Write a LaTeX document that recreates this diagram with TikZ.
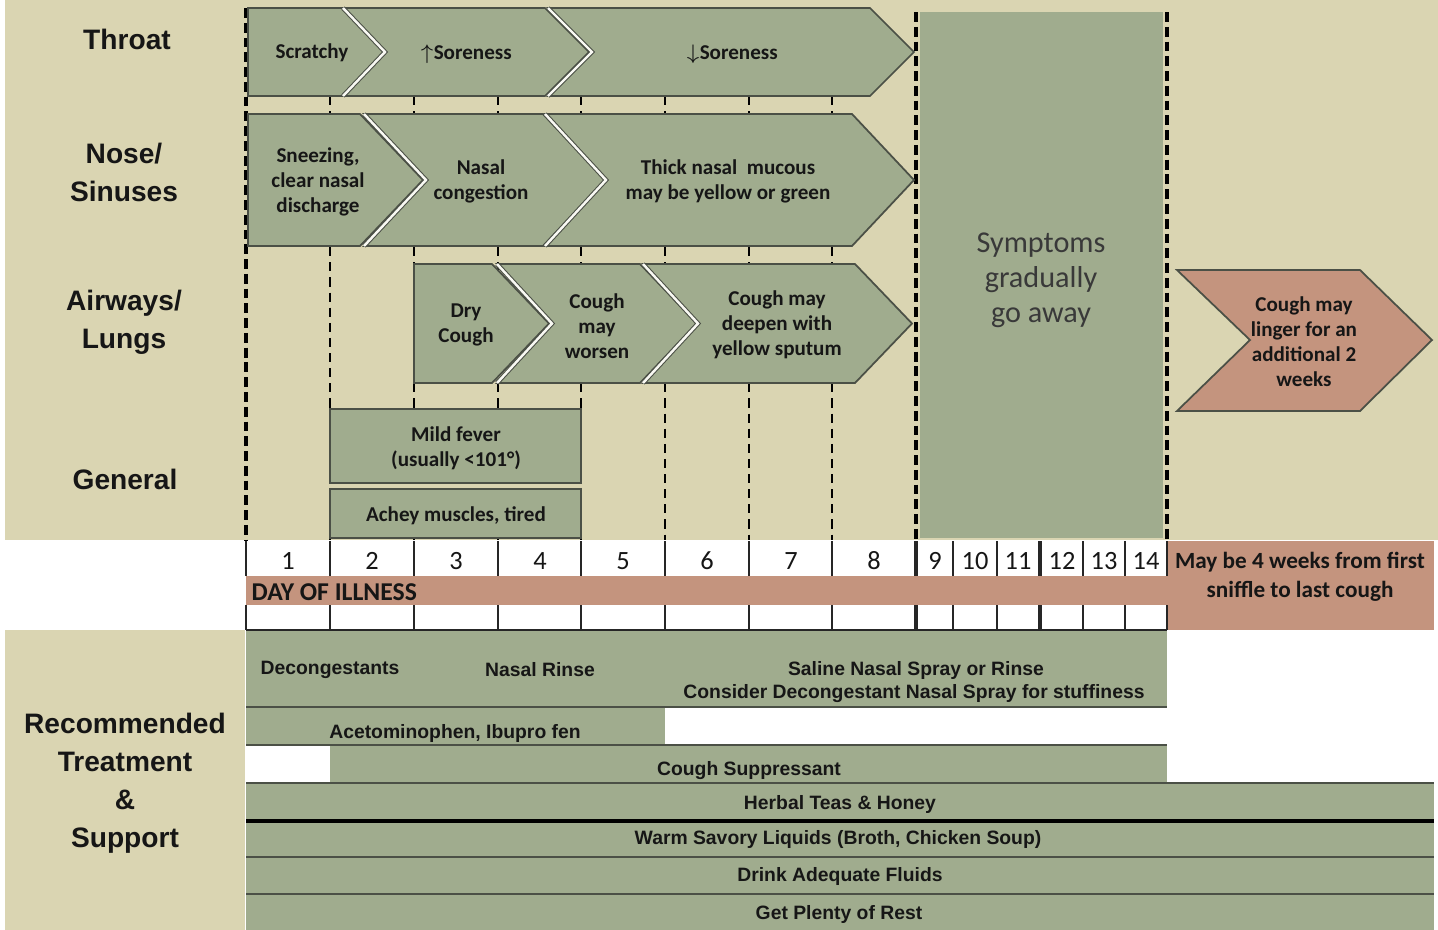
\documentclass[tikz,border=0pt]{standalone}
\usepackage{fontspec}
\setmainfont{Carlito}
\newfontfamily\lsans{Liberation Sans}
\definecolor{sage}{RGB}{160,172,142}
\definecolor{wheat}{RGB}{218,213,178}
\definecolor{clay}{RGB}{196,148,126}
\definecolor{edge}{RGB}{75,80,70}
\definecolor{ink}{RGB}{22,22,22}

% chevron: x0, x1, top, bottom, tip depth, notch depth
\newcommand{\chev}[6]{%
  \path[chev] (#1,#3) -- (#2,#3) -- ({#2+#5},{(#3+#4)/2}) -- (#2,#4) -- (#1,#4)
    -- ({#1+#6},{(#3+#4)/2}) -- cycle;}
\newcommand{\chevn}[6]{%
  \chev{#1}{#2}{#3}{#4}{#5}{#6}
  \draw[notchline] (#1,#3) -- ({#1+#6},{(#3+#4)/2}) -- (#1,#4);}

\begin{document}
\begin{tikzpicture}[
    x=0.01cm, y=-0.01cm,
    chev/.style={fill=sage, draw=edge, line width=0.5pt},
    notchline/.style={draw=edge, double=white!85!wheat, double distance=0.7pt, line width=0.3pt},
    txt/.style={font=\bfseries\fontsize{6}{7.1}\selectfont, align=center, text=ink, inner sep=0pt},
    rowlbl/.style={font=\lsans\bfseries\fontsize{8}{10.8}\selectfont, align=center, text=ink},
    daynum/.style={font=\fontsize{7.5}{9}\selectfont, text=ink},
    treat/.style={font=\lsans\bfseries\fontsize{5.5}{6.8}\selectfont, text=ink, inner sep=0pt},
    thindash/.style={dash pattern=on 2.6pt off 1.7pt, line width=0.55pt},
    thickdash/.style={dash pattern=on 2.8pt off 1.4pt, line width=0.9pt},
    rowline/.style={draw=edge, line width=0.5pt},
    cell/.style={draw=black!85, line width=0.4pt}
  ]
  \useasboundingbox (0,0) rectangle (1438,930);

  % backgrounds
  \fill[wheat] (5,0) rectangle (1438,540);
  \fill[wheat] (5,630) rectangle (245,930);
  \fill[clay] (246,576) rectangle (1167,605);
  \fill[clay] (1167,541) rectangle (1434,630);

  % day grid in the top part
  \foreach \x in {330,414,498,581,665,749,832}
    \draw[thindash] (\x,96) -- (\x,540);
  \draw[thickdash] (246,8) -- (246,540);
  \draw[thickdash] (916,12) -- (916,540);
  \draw[thickdash] (1167,12) -- (1167,540);

  % throat
  \chev{248}{343}{8}{96}{42}{0}
  \chevn{343}{545}{8}{96}{44}{42}
  \chevn{548}{870}{8}{96}{44}{44}
  \node[txt] (scratchy) at (312,53) {Scratchy};
  \node[txt] (sorenessup) at (466,54) {$\uparrow$Soreness};
  \node[txt] (sorenessdown) at (732,54) {$\downarrow$Soreness};

  % nose
  \chev{248}{360}{114}{246}{63}{0}
  \chevn{364}{543}{114}{246}{63}{62}
  \chevn{545}{852}{114}{246}{62}{61}
  \node[txt] (sneezing) at (318,182) {Sneezing,\\clear nasal\\discharge};
  \node[txt] (congestion) at (481,181) {Nasal\\congestion};
  \node[txt] (mucous) at (728,181) {Thick nasal\ \ mucous\\may be yellow or green};

  % airways
  \chev{414}{492}{264}{383}{57}{0}
  \chevn{497}{640}{264}{383}{57}{55}
  \chevn{643}{855}{264}{383}{57}{55}
  \node[txt] (drycough) at (466,325) {Dry\\Cough};
  \node[txt] (worsen) at (597,326) {Cough\\may\\worsen};
  \node[txt] (deepen) at (777,325) {Cough may\\deepen with\\yellow sputum};

  % general
  \path[chev] (330,409) rectangle (581,483);
  \path[chev] (330,489) rectangle (581,538);
  \node[txt] (fever) at (456,448) {Mild fever\\(usually <101°)};
  \node[txt] (achey) at (456,516) {Achey muscles, tired};

  % later days
  \fill[sage] (920,12) rectangle (1163,538);
  \node[font=\fontsize{8.6}{10}\selectfont, align=center, text=ink!85] (goaway) at (1041,280)
    {Symptoms\\gradually\\go away};
  \path[chev, fill=clay] (1177,270) -- (1360,270) -- (1432,340) -- (1360,411) -- (1177,411)
    -- (1250,340) -- cycle;
  \node[txt] (linger) at (1304,342) {Cough may\\linger for an\\additional 2\\weeks};

  % row labels
  \node[rowlbl] (throat) at (127,39) {Throat};
  \node[rowlbl] (nose) at (124,172) {Nose/\\Sinuses};
  \node[rowlbl] (airways) at (124,322) {Airways/\\Lungs};
  \node[rowlbl] (general) at (125,479) {General};
  \node[rowlbl] (treatment) at (125,783) {Recommended\\Treatment\\\&\\Support};

  % day of illness row
  \foreach \x in {246,330,414,498,581,665,749,832,953,997,1083,1125,1167} {
    \draw[cell] (\x,541) -- (\x,576);
    \draw[cell] (\x,605) -- (\x,630);
  }
  \foreach \x in {916,1040} {
    \draw[cell, line width=0.9pt] (\x,541) -- (\x,576);
    \draw[cell, line width=0.9pt] (\x,605) -- (\x,630);
  }
  \draw[cell] (246,630) -- (1167,630);
  \foreach \n/\x in {1/288,2/372,3/456,4/540,5/623,6/707,7/791,8/874,
                     9/935,10/975,11/1018,12/1062,13/1104,14/1146}
    \node[daynum] (day\n) at (\x,561) {\n};
  \node[font=\bfseries\fontsize{7.3}{9}\selectfont, text=ink, anchor=west, inner sep=0pt]
    (illness) at (251,592) {DAY OF ILLNESS};
  \node[font=\bfseries\fontsize{6.6}{8.4}\selectfont, align=center, text=ink] (fourweeks)
    at (1300,577) {May be 4 weeks from first\\sniffle to last cough};

  % treatment
  \fill[sage] (246,631) rectangle (1167,707);
  \fill[sage] (246,707) rectangle (665,745);
  \fill[sage] (330,745) rectangle (1167,783);
  \fill[sage] (246,783) rectangle (1434,930);
  \draw[rowline] (246,707) -- (1167,707);
  \draw[rowline] (246,745) -- (1167,745);
  \draw[rowline] (246,783) -- (1434,783);
  \draw[rowline, draw=black, line width=1pt] (246,821) -- (1434,821);
  \draw[rowline] (246,857) -- (1434,857);
  \draw[rowline] (246,894) -- (1434,894);
  \node[treat] (decong) at (330,670) {Decongestants};
  \node[treat] (rinse) at (540,670) {Nasal Rinse};
  \node[treat] (saline) at (916,670) {Saline Nasal Spray or Rinse};
  \node[treat] (spray) at (914,694) {Consider Decongestant Nasal Spray for stuffiness};
  \node[treat] (pain) at (455,733) {Acetominophen, Ibupro fen};
  \node[treat] (suppress) at (749,771) {Cough Suppressant};
  \node[treat] (teas) at (840,804) {Herbal Teas \& Honey};
  \node[treat] (liquids) at (838,839) {Warm Savory Liquids (Broth, Chicken Soup)};
  \node[treat] (fluids) at (840,876) {Drink Adequate Fluids};
  \node[treat] (rest) at (839,914) {Get Plenty of Rest};
\end{tikzpicture}
\end{document}
